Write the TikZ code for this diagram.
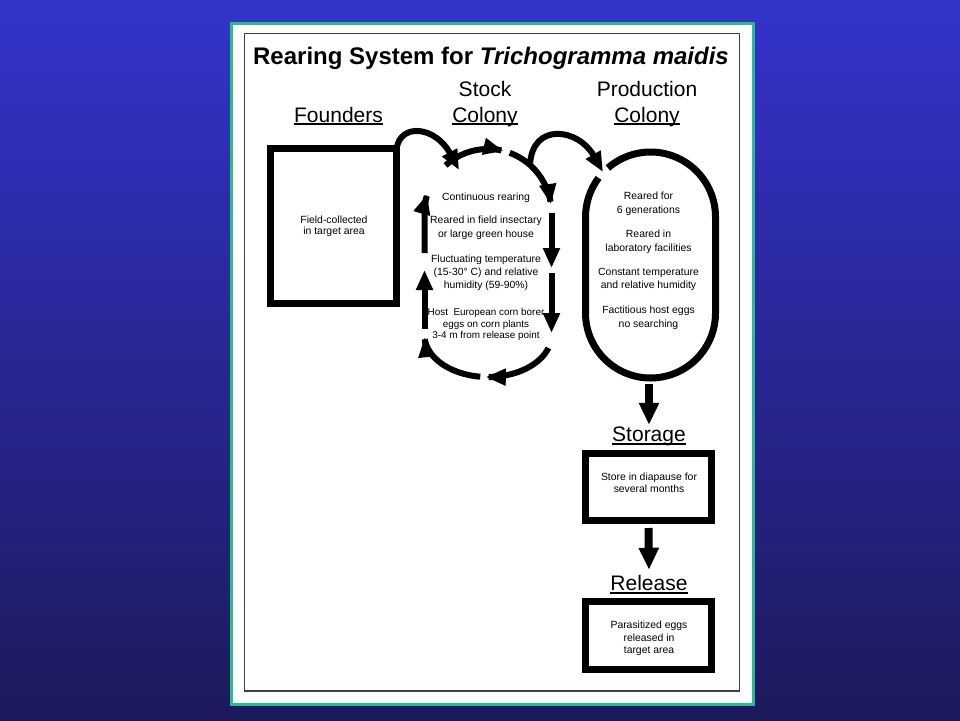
\documentclass[tikz,border=0pt]{standalone}
\usepackage{fontspec}
\setmainfont{Liberation Sans}
\usetikzlibrary{arrows.meta}
\definecolor{bgtop}{RGB}{52,51,204}
\definecolor{bgbot}{RGB}{28,26,92}
\definecolor{panelline}{RGB}{38,190,140}
\begin{document}
\begin{tikzpicture}[x=1pt,y=-1pt,
  thickbox/.style={draw=black, line width=7pt, minimum width=126pt, inner sep=0pt, outer sep=0pt},
  small/.style={font=\fontsize{10.4}{13.3}\selectfont, align=center, inner sep=0pt, anchor=north},
  hdr/.style={font=\fontsize{21}{25}\selectfont, inner sep=0pt, anchor=base},
  uline/.style={line width=1.6pt},
  loopseg/.style={line width=6pt, -{Triangle[length=20pt,width=16pt]}},
  conn/.style={line width=6pt, -{Triangle[length=20pt,width=16pt]}},
  blk/.style={line width=8pt, -{Triangle[length=22pt,width=19pt]}},
]
\useasboundingbox (0,0) rectangle (960,720);
\shade[top color=bgtop, bottom color=bgbot] (0,0) rectangle (960,720);
\draw[panelline, line width=3pt, fill=white] (231.5,23.5) rectangle (753.5,704.5);
\draw[line width=1.2pt, black!75] (244.5,33.5) rectangle (739.5,691);

% title
\node[font=\bfseries\fontsize{24}{28}\selectfont, inner sep=0pt, anchor=base] (title) at (491,64.5)
  {Rearing System for \textit{Trichogramma maidis}};

% headers
\node[hdr] (hfound) at (338.5,122) {Founders};
\node[hdr] (hstock1) at (485,96) {Stock};
\node[hdr] (hstock2) at (485,122) {Colony};
\node[hdr] (hprod1) at (647,96) {Production};
\node[hdr] (hprod2) at (647,122) {Colony};
\node[hdr] (hstor) at (649,441.7) {Storage};
\node[hdr] (hrel) at (649,590.7) {Release};
\foreach \n in {hfound,hstock2,hprod2,hstor,hrel}
  \draw[uline] ([yshift=-2pt]\n.base west) -- ([yshift=-2pt]\n.base east);

% founders box
\node[thickbox, minimum height=155pt] (founders) at (333.5,226) {};
\node[small, font=\fontsize{10.4}{11.4}\selectfont] (tfound) at (334,215.4) {Field-collected\\in target area};

% stock colony loop
\draw[loopseg] (424.5,253) -- plot[domain=180:163,samples=12] ({488+63.5*cos(\x)},{213-64*sin(\x)});
\draw[loopseg] plot[domain=132:76,samples=30] ({488+63.5*cos(\x)},{213-64*sin(\x)});
\draw[loopseg] plot[domain=70:8,samples=30] ({488+63.5*cos(\x)},{213-64*sin(\x)});
\draw[loopseg] (551.5,213) -- (551.5,268);
\draw[loopseg] (551.5,273) -- (551.5,333);
\draw[loopseg] plot[domain=-18:-92,samples=30] ({488+63.5*cos(\x)},{335-42*sin(\x)});
\draw[loopseg] plot[domain=-97:-177,samples=30] ({488+63.5*cos(\x)},{335-42*sin(\x)});
\draw[loopseg] (424.5,329) -- (424.5,270);

\node[small] (s1) at (486,193.1) {Continuous rearing};
\node[small, font=\fontsize{10.4}{14}\selectfont] (s2) at (486,216.1) {Reared in field insectary\\or large green house};
\node[small] (s3) at (486,254.4) {Fluctuating temperature\\(15-30° C) and relative\\humidity (59-90\%)};
\node[small, font=\fontsize{9.9}{11.7}\selectfont] (s4) at (486,308) {Host\ \ European corn borer\\eggs on corn plants\\3-4 m from release point};

% production colony
\draw[line width=7pt] (598.6,177.9) arc[start angle=-143, end angle=-180, radius=65]
  -- (585.5,313) arc[start angle=180, end angle=0, radius=65]
  -- (715.5,217) arc[start angle=0, end angle=-131, radius=65];
\node[small] (p1) at (648.5,192.1) {Reared for\\6 generations};
\node[small] (p2) at (648.5,230.1) {Reared in\\laboratory facilities};
\node[small] (p3) at (648.5,267.8) {Constant temperature\\and relative humidity};
\node[small] (p4) at (648.5,306.1) {Factitious host eggs\\no searching};

% connectors
\coordinate (sA) at (459,170);
\coordinate (sB) at (530,165);
\coordinate (prodin) at (603,172);
\coordinate (prodS) at (649,384);
\draw[conn] (founders.north east) .. controls (401,122) and (436,127) .. (sA);
\draw[conn] (sB) .. controls (532,122) and (578,128) .. (prodin);

% storage and release
\node[thickbox, minimum height=67pt] (storbox) at (648.5,487) {};
\node[small, font=\fontsize{10.4}{11.6}\selectfont] (tstor) at (649,472.8) {Store in diapause for\\several months};
\node[thickbox, minimum height=68pt] (relbox) at (648.5,635.5) {};
\node[small, font=\fontsize{10.4}{12.2}\selectfont] (trel) at (649,621.1) {Parasitized eggs\\released in\\target area};

\draw[blk] (prodS) -- ([yshift=2pt]hstor.north);
\draw[blk] ([yshift=-7.5pt]storbox.south) -- ([yshift=5.5pt]hrel.north);
\end{tikzpicture}
\end{document}
